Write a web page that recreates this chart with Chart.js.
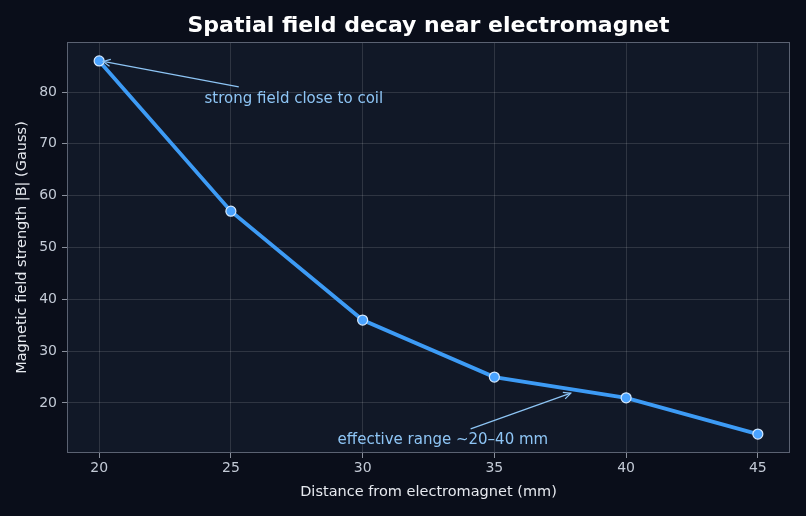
<!DOCTYPE html>
<html>
<head>
<meta charset="utf-8">
<script src="https://cdn.jsdelivr.net/npm/chart.js@4/dist/chart.umd.min.js"></script>
<style>
  html, body { margin: 0; padding: 0; background: #0a0e1a; }
  #wrap { width: 806px; height: 516px; }
</style>
</head>
<body>
<div id="wrap"><canvas id="chart" width="806" height="516"></canvas></div>
<script>
const distances = [20, 25, 30, 35, 40, 45];
const fieldStrength = [86, 57, 36, 25, 21, 14];
const xTicks = [20, 25, 30, 35, 40, 45];
const yTicks = [20, 30, 40, 50, 60, 70, 80];
const chartTitle = 'Spatial field decay near electromagnet';

const notes = [
    { text: 'strong field close to coil', at: [24.0, 78.6], from: [25.3, 81.0], to: [20.15, 85.9] },
    { text: 'effective range ~20\u201340 mm', at: [29.05, 12.9], from: [34.1, 15.0], to: [37.9, 21.9] }
];

const plotBg = {
    id: 'plotBg',
    beforeDraw(chart) {
        const { ctx, chartArea: a } = chart;
        ctx.save();
        ctx.fillStyle = '#111827';
        ctx.fillRect(a.left, a.top, a.right - a.left, a.bottom - a.top);
        ctx.restore();
    },
    afterDatasetsDraw(chart) {
        const { ctx, chartArea: a } = chart;
        ctx.save();
        ctx.strokeStyle = '#5b6272';
        ctx.lineWidth = 1;
        ctx.strokeRect(a.left + 0.5, a.top + 0.5, a.right - a.left - 1, a.bottom - a.top - 1);
        // title centred over the plot area
        ctx.font = 'bold 22px "DejaVu Sans"';
        ctx.fillStyle = '#ffffff';
        ctx.textAlign = 'center';
        ctx.textBaseline = 'middle';
        ctx.fillText(chartTitle, (a.left + a.right) / 2, 26);
        ctx.restore();
    }
};

const annotations = {
    id: 'notes',
    afterDatasetsDraw(chart) {
        const { ctx, scales: { x, y } } = chart;
        ctx.save();
        ctx.font = '15px "DejaVu Sans"';
        ctx.fillStyle = '#8ec5f5';
        ctx.strokeStyle = '#8ec5f5';
        ctx.lineWidth = 1.2;
        ctx.textBaseline = 'middle';
        notes.forEach(n => {
            const fx = x.getPixelForValue(n.from[0]), fy = y.getPixelForValue(n.from[1]);
            const tx = x.getPixelForValue(n.to[0]), ty = y.getPixelForValue(n.to[1]);
            ctx.beginPath();
            ctx.moveTo(fx, fy);
            ctx.lineTo(tx, ty);
            ctx.stroke();
            const ang = Math.atan2(ty - fy, tx - fx);
            ctx.beginPath();
            ctx.moveTo(tx - 8 * Math.cos(ang - 0.45), ty - 8 * Math.sin(ang - 0.45));
            ctx.lineTo(tx, ty);
            ctx.lineTo(tx - 8 * Math.cos(ang + 0.45), ty - 8 * Math.sin(ang + 0.45));
            ctx.stroke();
            ctx.fillText(n.text, x.getPixelForValue(n.at[0]), y.getPixelForValue(n.at[1]));
        });
        ctx.restore();
    }
};

new Chart(document.getElementById('chart'), {
    type: 'line',
    data: {
        datasets: [{
            data: distances.map((d, i) => ({ x: d, y: fieldStrength[i] })),
            borderColor: '#3d9bf5',
            borderWidth: 3.8,
            pointBackgroundColor: '#4aa3ff',
            pointBorderColor: '#d6eaff',
            pointBorderWidth: 1.2,
            pointRadius: 5,
            tension: 0
        }]
    },
    options: {
        responsive: false,
        animation: false,
        layout: { padding: { left: 0, right: 16, top: 42, bottom: 0 } },
        plugins: {
            legend: { display: false },
            tooltip: { enabled: false },
            title: { display: false }
        },
        scales: {
            x: {
                type: 'linear',
                min: 18.78,
                max: 46.22,
                afterBuildTicks: s => { s.ticks = xTicks.map(v => ({ value: v })); },
                afterFit: s => { s.height = 63; },
                ticks: { color: '#c3cad6', font: { family: 'DejaVu Sans', size: 14 }, padding: 2 },
                grid: { color: 'rgba(255,255,255,0.13)', tickColor: '#8a909c', tickLength: 5 },
                border: { display: false },
                title: {
                    display: true,
                    text: 'Distance from electromagnet (mm)',
                    color: '#e6e9ef',
                    font: { family: 'DejaVu Sans', size: 14.5 },
                    padding: { top: 4, bottom: 15 }
                }
            },
            y: {
                min: 10.35,
                max: 89.65,
                afterBuildTicks: s => { s.ticks = yTicks.map(v => ({ value: v })); },
                afterFit: s => { s.width = 67; },
                ticks: { color: '#c3cad6', font: { family: 'DejaVu Sans', size: 14 }, padding: 5 },
                grid: { color: 'rgba(255,255,255,0.13)', tickColor: '#8a909c', tickLength: 5 },
                border: { display: false },
                title: {
                    display: true,
                    text: 'Magnetic field strength |B| (Gauss)',
                    color: '#e6e9ef',
                    font: { family: 'DejaVu Sans', size: 14.5 },
                    padding: { top: 14, bottom: 4 }
                }
            }
        }
    },
    plugins: [plotBg, annotations]
});
</script>
</body>
</html>
